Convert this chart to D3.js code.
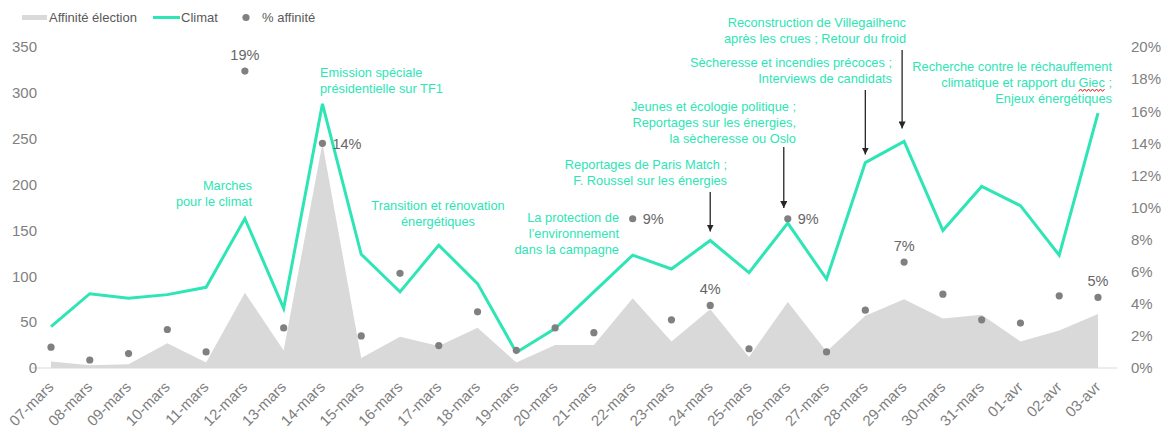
<!DOCTYPE html>
<html>
<head>
<meta charset="utf-8">
<script src="https://cdn.jsdelivr.net/npm/d3@7"></script>
<style>
  body { margin: 0; background: #fff; }
  svg { font-family: "Liberation Sans", Arial, sans-serif; }
</style>
</head>
<body>
<svg id="chart"></svg>
<script>
// data
const dates = ["07-mars", "08-mars", "09-mars", "10-mars", "11-mars", "12-mars", "13-mars",
  "14-mars", "15-mars", "16-mars", "17-mars", "18-mars", "19-mars", "20-mars", "21-mars",
  "22-mars", "23-mars", "24-mars", "25-mars", "26-mars", "27-mars", "28-mars", "29-mars",
  "30-mars", "31-mars", "01-avr", "02-avr", "03-avr"];
const climat = [45, 81, 76, 80, 88, 163, 65, 288, 124, 83, 134, 92, 17, 43, 83,
  123, 108, 139, 104, 158, 97, 224, 247, 150, 198, 177, 123, 278];
const affiniteElection = [7, 3, 4, 27, 6, 82, 19, 245, 11, 34, 24, 44, 6, 25, 25,
  76, 29, 64, 12, 72, 18, 57, 75, 54, 58, 29, 41, 59];
const pctAffinite = [0.013, 0.005, 0.009, 0.024, 0.010, 0.185, 0.025, 0.140, 0.020, 0.059,
  0.014, 0.035, 0.011, 0.025, 0.022, 0.093, 0.030, 0.039, 0.012, 0.093, 0.010, 0.036,
  0.066, 0.046, 0.030, 0.028, 0.045, 0.044];
const leftTicks = [0, 50, 100, 150, 200, 250, 300, 350];
const rightTicks = [0, 0.02, 0.04, 0.06, 0.08, 0.10, 0.12, 0.14, 0.16, 0.18, 0.20];

// labelled percentages: date, text, placement
const pctLabels = [
  ["12-mars", "19%", "top"], ["14-mars", "14%", "right"], ["22-mars", "9%", "right"],
  ["24-mars", "4%", "top"], ["26-mars", "9%", "right"], ["29-mars", "7%", "top"],
  ["03-avr", "5%", "top"]
];

// annotations: lines, anchor, x, first line centre
const notes = [
  { lines: ["Marches", "pour le climat"], anchor: "end", x: 252, y: 185 },
  { lines: ["Emission spéciale", "présidentielle sur TF1"], anchor: "start", x: 320, y: 72 },
  { lines: ["Transition et rénovation", "énergétiques"], anchor: "middle", x: 438, y: 205 },
  { lines: ["La protection de", "l\u2019environnement", "dans la campagne"], anchor: "end", x: 619, y: 217.5 },
  { lines: ["Reportages de Paris Match ;", "F. Roussel sur les énergies"], anchor: "end", x: 727, y: 164 },
  { lines: ["Jeunes et écologie politique ;", "Reportages sur les énergies,", "la sècheresse ou Oslo"], anchor: "end", x: 796, y: 106.5 },
  { lines: ["Sècheresse et incendies précoces ;", "Interviews de candidats"], anchor: "end", x: 892, y: 62 },
  { lines: ["Reconstruction de Villegailhenc", "après les crues ; Retour du froid"], anchor: "end", x: 906, y: 22 },
  { lines: ["Recherche contre le réchauffement", "climatique et rapport du Giec ;", "Enjeux énergétiques"], anchor: "end", x: 1112, y: 66.5 }
];

// arrows: date, dx, top y, gap above the line
const arrows = [
  ["24-mars", 0, 192, 9],
  ["26-mars", -4, 147, 15],
  ["28-mars", 0, 90, 8],
  ["29-mars", -2, 50, 13]
];

const W = 1166, H = 429;
const green = "#2ee5b5", grey = "#808080", textGrey = "#7f7f7f";

let svg = d3.select("#chart").attr("width", W).attr("height", H);

let x = d3.scalePoint().domain(dates).range([51, 1098]);
let yL = d3.scaleLinear().domain([0, 350]).range([368, 47]);
let yR = d3.scaleLinear().domain([0, 0.20]).range([368, 47]);

// area
let area = d3.area()
  .x((d, i) => x(dates[i]))
  .y0(yL(0))
  .y1(d => yL(d));
svg.append("path")
  .datum(affiniteElection)
  .attr("d", area)
  .attr("fill", "#d9d9d9");

// baseline
svg.append("line")
  .attr("x1", x(dates[0]) - x.step() / 2)
  .attr("x2", x(dates[dates.length - 1]) + x.step() / 2)
  .attr("y1", yL(0)).attr("y2", yL(0))
  .attr("stroke", "#d9d9d9").attr("stroke-width", 1);

// climat line
let line = d3.line()
  .x((d, i) => x(dates[i]))
  .y(d => yL(d));
svg.append("path")
  .datum(climat)
  .attr("d", line)
  .attr("fill", "none")
  .attr("stroke", green)
  .attr("stroke-width", 3)
  .attr("stroke-linejoin", "miter");

// dots
svg.append("g").selectAll("circle")
  .data(pctAffinite)
  .join("circle")
    .attr("cx", (d, i) => x(dates[i]))
    .attr("cy", d => yR(d))
    .attr("r", 3.6)
    .attr("fill", grey);

// pct labels
svg.append("g").selectAll("text")
  .data(pctLabels)
  .join("text")
    .attr("x", ([d, t, p]) => x(d) + (p === "right" ? 10 : 0))
    .attr("y", ([d, t, p]) => yR(pctAffinite[dates.indexOf(d)]) + (p === "right" ? 5.5 : -11.5))
    .attr("text-anchor", ([d, t, p]) => p === "right" ? "start" : "middle")
    .attr("font-size", "14.5px")
    .attr("fill", "#666")
    .text(([d, t]) => t);

// axes
let axL = svg.append("g")
  .attr("transform", "translate(40,0)")
  .call(d3.axisLeft(yL).tickValues(leftTicks).tickSize(0).tickPadding(3));
let axR = svg.append("g")
  .attr("transform", "translate(1128,0)")
  .call(d3.axisRight(yR).tickValues(rightTicks).tickSize(0).tickPadding(3).tickFormat(d3.format(".0%")));
let axB = svg.append("g")
  .attr("transform", `translate(0,${yL(0)})`)
  .call(d3.axisBottom(x).tickSize(0));

[axL, axR, axB].forEach(g => {
  g.select(".domain").remove();
  g.selectAll("text")
    .attr("font-family", "Liberation Sans, Arial, sans-serif")
    .attr("font-size", "15px")
    .attr("fill", textGrey);
});
axB.selectAll("text")
  .attr("y", 0).attr("dy", 0)
  .attr("text-anchor", "end")
  .attr("transform", "translate(3,20) rotate(-45)");

// annotations
let notesG = svg.append("g")
  .attr("font-size", "12.8px")
  .attr("fill", green);
notes.forEach(n => {
  n.lines.forEach((l, i) => {
    notesG.append("text")
      .attr("x", n.x)
      .attr("y", n.y + i * 16.2 + 4.5)
      .attr("text-anchor", n.anchor)
      .text(l);
  });
});

// spell-check squiggle under "Giec"
notesG.selectAll("text").each(function () {
  let s = this.textContent, k = s.indexOf("Giec");
  if (k < 0) return;
  let a = this.getStartPositionOfChar(k).x, b = this.getEndPositionOfChar(k + 3).x;
  let yy = +this.getAttribute("y") + 3;
  let pts = [];
  for (let px = a, j = 0; px <= b; px += 2, j++) pts.push([px, yy + (j % 2 ? -1.2 : 1.2)]);
  svg.append("path")
    .attr("d", d3.line()(pts))
    .attr("fill", "none")
    .attr("stroke", "#e02020")
    .attr("stroke-width", 1);
});

// arrows
svg.append("defs").append("marker")
  .attr("id", "head")
  .attr("viewBox", "0 0 10 10")
  .attr("refX", 10).attr("refY", 5)
  .attr("markerWidth", 7).attr("markerHeight", 7)
  .attr("markerUnits", "userSpaceOnUse")
  .attr("orient", "auto")
  .append("path")
    .attr("d", "M0,0L10,5L0,10Z")
    .attr("fill", "#262626");
svg.append("g").selectAll("line")
  .data(arrows)
  .join("line")
    .attr("x1", ([d, dx]) => x(d) + dx)
    .attr("x2", ([d, dx]) => x(d) + dx)
    .attr("y1", ([d, dx, top]) => top)
    .attr("y2", ([d, dx, top, gap]) => yL(climat[dates.indexOf(d)]) - gap)
    .attr("stroke", "#262626")
    .attr("stroke-width", 1.3)
    .attr("marker-end", "url(#head)");

// legend
let leg = svg.append("g").attr("font-size", "13px").attr("fill", "#595959");
leg.append("rect").attr("x", 22).attr("y", 15).attr("width", 25).attr("height", 5).attr("fill", "#d9d9d9");
leg.append("text").attr("x", 49).attr("y", 22).text("Affinité élection");
leg.append("line").attr("x1", 153).attr("x2", 180).attr("y1", 17.5).attr("y2", 17.5)
  .attr("stroke", green).attr("stroke-width", 3);
leg.append("text").attr("x", 181).attr("y", 22).text("Climat");
leg.append("circle").attr("cx", 246).attr("cy", 17.5).attr("r", 3.6).attr("fill", grey);
leg.append("text").attr("x", 262).attr("y", 22).text("% affinité");
</script>
</body>
</html>
